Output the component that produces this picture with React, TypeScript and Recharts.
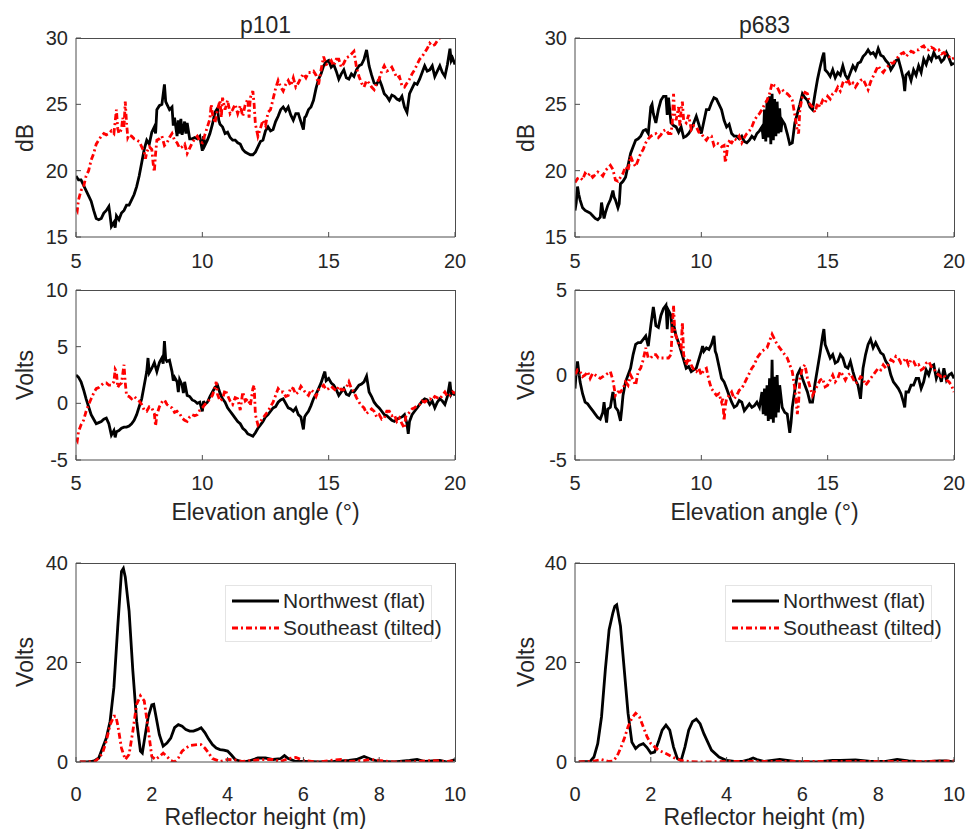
import { LineChart, Line, XAxis, YAxis, Legend } from "recharts";

// MATLAB-ish look: Arial metrics, dark grey ink, thin grey frame.
const FONT = '"Liberation Sans", Arial, Helvetica, sans-serif';
const INK = "#262626";
const FRAME = "#4d4d4d";
const NW_COLOR = "#000000";
const SE_COLOR = "#ff0000";
const DASH_DOT = "6 3 2 3";
const LINE_W = 2.8;
const TICK_LEN = 5;
const Y_AXIS_W = 60;
const X_AXIS_H = 30;

type Pt = [number, number];

const LEGEND_NAMES = ["Northwest (flat)", "Southeast (tilted)"];
const SITES = ["p101", "p683"];

const ANGLE_TICKS = [5, 10, 15, 20];
const HEIGHT_TICKS = [0, 2, 4, 6, 8, 10];
const DB_TICKS = [15, 20, 25, 30];
const VOLT_TICKS_P101 = [-5, 0, 5, 10];
const VOLT_TICKS_P683 = [-5, 0, 5];
const PEAK_TICKS = [0, 20, 40];

// p101 SNR (dB) vs elevation angle
const p101DbNW: Pt[] = [
  [5.0, 19.6], [5.1, 19.3], [5.2, 19.3], [5.3, 18.9], [5.4, 18.5], [5.5, 18.1], [5.6, 17.7], [5.7, 17.0],
  [5.8, 16.4], [5.9, 16.3], [6.0, 16.4], [6.1, 16.8], [6.2, 17.0], [6.3, 17.3], [6.35, 16.6], [6.4, 15.8],
  [6.5, 16.1], [6.55, 15.7], [6.6, 16.6], [6.7, 16.3], [6.8, 16.8], [6.9, 17.0], [7.0, 17.4], [7.1, 17.4],
  [7.2, 17.8], [7.3, 18.2], [7.4, 18.8], [7.5, 19.6], [7.6, 20.6], [7.7, 21.6], [7.8, 22.3], [7.9, 22.0],
  [8.0, 22.9], [8.1, 23.3], [8.15, 22.8], [8.2, 24.6], [8.3, 24.9], [8.4, 25.0], [8.5, 26.5], [8.55, 25.2],
  [8.6, 25.0], [8.7, 24.6], [8.8, 24.8], [8.85, 23.4], [8.9, 24.0], [9.0, 22.6], [9.05, 23.8], [9.1, 22.8],
  [9.15, 23.9], [9.2, 22.7], [9.3, 23.7], [9.35, 22.8], [9.4, 23.6], [9.5, 22.4], [9.6, 22.4], [9.7, 22.5],
  [9.8, 22.4], [9.9, 22.6], [10.0, 21.5], [10.05, 22.6], [10.1, 21.9], [10.2, 22.3], [10.3, 22.8], [10.4, 23.5],
  [10.5, 24.4], [10.6, 24.7], [10.65, 23.8], [10.7, 23.5], [10.8, 23.3], [10.9, 22.8], [11.0, 22.9], [11.1, 22.5],
  [11.2, 22.3], [11.3, 22.3], [11.4, 22.1], [11.5, 22.0], [11.6, 21.6], [11.7, 21.4], [11.8, 21.3], [11.9, 21.2],
  [12.0, 21.2], [12.1, 21.4], [12.2, 21.8], [12.3, 22.2], [12.4, 22.3], [12.5, 23.0], [12.6, 23.3], [12.7, 23.0],
  [12.8, 23.1], [12.9, 23.7], [13.0, 24.1], [13.1, 24.6], [13.2, 24.8], [13.3, 24.5], [13.4, 24.8], [13.5, 24.2],
  [13.6, 23.8], [13.7, 24.3], [13.8, 24.3], [13.9, 23.7], [14.0, 23.1], [14.05, 24.0], [14.1, 24.1], [14.2, 24.6],
  [14.3, 24.8], [14.4, 25.3], [14.5, 26.2], [14.6, 26.9], [14.7, 27.3], [14.8, 27.9], [14.9, 28.2], [15.0, 28.3],
  [15.1, 27.8], [15.2, 28.0], [15.3, 27.5], [15.4, 26.9], [15.5, 27.3], [15.6, 27.6], [15.7, 27.0], [15.8, 26.9],
  [15.9, 27.3], [16.0, 27.1], [16.1, 27.6], [16.2, 27.9], [16.3, 28.0], [16.4, 28.4], [16.5, 29.1], [16.6, 27.9],
  [16.7, 27.2], [16.8, 26.6], [16.9, 26.5], [17.0, 26.9], [17.1, 26.4], [17.2, 25.8], [17.3, 25.6], [17.4, 25.3],
  [17.5, 25.7], [17.6, 25.6], [17.7, 25.4], [17.8, 25.3], [17.9, 25.6], [18.0, 24.8], [18.1, 24.4], [18.2, 25.8],
  [18.3, 26.2], [18.4, 26.6], [18.5, 26.5], [18.6, 26.9], [18.7, 27.4], [18.8, 27.9], [18.9, 27.5], [19.0, 27.6],
  [19.1, 27.9], [19.2, 27.1], [19.3, 27.5], [19.4, 27.9], [19.5, 27.4], [19.6, 27.1], [19.7, 28.0], [19.8, 29.2],
  [19.85, 28.3], [19.9, 28.5], [20.0, 28.0],
];

const p101DbSE: Pt[] = [
  [5.0, 17.2], [5.05, 17.0], [5.1, 17.8], [5.2, 18.5], [5.3, 18.8], [5.4, 19.6], [5.5, 20.0], [5.6, 20.8],
  [5.7, 21.3], [5.8, 22.0], [5.9, 22.3], [6.0, 22.6], [6.1, 22.8], [6.2, 22.7], [6.3, 22.8], [6.4, 23.0],
  [6.5, 22.8], [6.6, 24.6], [6.65, 23.2], [6.7, 22.8], [6.8, 23.1], [6.85, 24.0], [6.9, 23.3], [6.95, 25.2],
  [7.0, 23.6], [7.05, 22.5], [7.1, 22.7], [7.2, 22.6], [7.3, 22.4], [7.4, 22.3], [7.5, 22.2], [7.6, 21.8],
  [7.7, 21.4], [7.75, 20.9], [7.8, 21.4], [7.9, 21.8], [8.0, 21.6], [8.05, 20.6], [8.1, 19.9], [8.15, 21.3],
  [8.2, 22.3], [8.3, 22.4], [8.4, 22.6], [8.5, 21.9], [8.6, 22.1], [8.7, 22.5], [8.8, 22.8], [8.9, 22.3],
  [9.0, 22.1], [9.1, 21.7], [9.2, 21.8], [9.3, 22.0], [9.4, 21.3], [9.5, 21.7], [9.6, 22.1], [9.7, 22.4],
  [9.8, 22.6], [9.9, 22.2], [10.0, 22.1], [10.1, 22.7], [10.2, 23.3], [10.3, 23.9], [10.35, 25.0], [10.4, 24.3],
  [10.5, 23.6], [10.6, 24.6], [10.7, 25.3], [10.75, 24.0], [10.8, 25.5], [10.9, 24.6], [11.0, 25.3], [11.1, 24.3],
  [11.2, 24.6], [11.3, 25.0], [11.4, 24.3], [11.5, 24.9], [11.6, 24.1], [11.7, 25.0], [11.8, 25.4], [11.85, 24.0],
  [11.9, 25.5], [12.0, 26.0], [12.05, 25.0], [12.1, 23.5], [12.2, 22.6], [12.3, 23.2], [12.4, 23.8], [12.5, 23.4],
  [12.6, 24.4], [12.7, 24.6], [12.8, 25.4], [12.9, 26.2], [13.0, 26.8], [13.1, 26.3], [13.2, 26.0], [13.3, 26.5],
  [13.4, 26.8], [13.5, 26.4], [13.6, 27.0], [13.7, 26.3], [13.8, 26.6], [13.9, 27.0], [14.0, 27.3], [14.1, 27.0],
  [14.2, 27.4], [14.3, 27.4], [14.4, 27.5], [14.5, 27.2], [14.6, 26.5], [14.7, 27.6], [14.8, 28.6], [14.9, 28.0],
  [15.0, 28.1], [15.1, 28.3], [15.2, 27.9], [15.3, 28.4], [15.4, 28.4], [15.5, 27.8], [15.6, 28.1], [15.7, 28.5],
  [15.8, 28.6], [15.9, 28.8], [16.0, 29.0], [16.1, 27.8], [16.2, 27.1], [16.3, 26.6], [16.4, 26.3], [16.5, 26.8],
  [16.6, 26.6], [16.7, 26.3], [16.8, 26.1], [16.9, 26.6], [17.0, 26.9], [17.1, 27.5], [17.2, 27.9], [17.3, 27.5],
  [17.4, 27.6], [17.5, 27.8], [17.6, 27.4], [17.7, 27.0], [17.8, 27.1], [17.9, 26.4], [18.0, 26.3], [18.1, 26.6],
  [18.2, 26.9], [18.3, 27.3], [18.4, 27.6], [18.5, 28.0], [18.6, 28.4], [18.7, 28.6], [18.8, 28.9], [18.9, 29.2],
  [19.0, 29.6], [19.1, 29.4], [19.2, 29.5], [19.3, 29.8], [19.4, 30.0], [19.5, 30.4], [19.7, 30.8], [20.0, 31.0],
];

// p683 SNR (dB) vs elevation angle
const p683DbNW: Pt[] = [
  [5.0, 17.0], [5.05, 17.6], [5.1, 18.8], [5.15, 18.2], [5.2, 17.8], [5.3, 17.2], [5.4, 17.0], [5.5, 16.9],
  [5.6, 16.8], [5.7, 16.6], [5.8, 16.4], [5.9, 16.3], [6.0, 16.5], [6.05, 17.6], [6.1, 17.0], [6.15, 16.4],
  [6.2, 16.8], [6.3, 17.4], [6.4, 17.8], [6.5, 18.5], [6.55, 18.0], [6.6, 17.8], [6.7, 17.2], [6.75, 17.5],
  [6.8, 19.0], [6.9, 19.2], [7.0, 19.5], [7.1, 20.4], [7.2, 21.3], [7.3, 21.8], [7.4, 22.3], [7.5, 22.4],
  [7.6, 22.6], [7.7, 23.0], [7.8, 23.1], [7.9, 22.8], [8.0, 24.8], [8.05, 25.0], [8.1, 24.3], [8.2, 23.6],
  [8.3, 24.6], [8.4, 25.3], [8.5, 25.6], [8.6, 25.6], [8.65, 24.2], [8.7, 25.5], [8.8, 23.6], [8.9, 23.4],
  [9.0, 23.3], [9.1, 22.9], [9.2, 23.3], [9.3, 22.5], [9.4, 22.6], [9.5, 22.8], [9.6, 23.1], [9.7, 23.6],
  [9.8, 24.1], [9.9, 23.5], [10.0, 22.8], [10.1, 23.7], [10.2, 24.6], [10.3, 24.6], [10.4, 25.1], [10.5, 25.5],
  [10.6, 25.4], [10.7, 25.0], [10.8, 24.6], [10.9, 23.8], [11.0, 23.3], [11.1, 23.5], [11.2, 22.8], [11.3, 22.6],
  [11.4, 22.6], [11.5, 22.4], [11.6, 22.6], [11.7, 22.2], [11.8, 22.1], [11.9, 22.3], [12.0, 22.6], [12.1, 22.4],
  [12.2, 22.8], [12.3, 23.0], [12.4, 23.3], [12.45, 22.4], [12.5, 24.6], [12.55, 22.2], [12.6, 25.3], [12.65, 22.5],
  [12.7, 25.6], [12.75, 22.0], [12.8, 25.8], [12.85, 22.3], [12.9, 25.4], [12.95, 22.6], [13.0, 25.2], [13.05, 22.8],
  [13.1, 24.7], [13.15, 22.9], [13.2, 23.8], [13.3, 23.5], [13.4, 22.8], [13.5, 22.0], [13.6, 22.1], [13.7, 23.6],
  [13.8, 24.3], [13.9, 25.0], [14.0, 25.8], [14.1, 25.5], [14.2, 25.3], [14.3, 24.8], [14.4, 24.6], [14.5, 25.8],
  [14.6, 26.9], [14.7, 27.8], [14.8, 28.6], [14.85, 28.9], [14.9, 27.6], [15.0, 27.4], [15.1, 27.1], [15.2, 27.6],
  [15.3, 27.0], [15.4, 27.4], [15.5, 27.2], [15.6, 27.9], [15.7, 27.2], [15.8, 26.9], [15.9, 27.4], [16.0, 27.9],
  [16.1, 27.6], [16.2, 28.1], [16.3, 28.2], [16.4, 28.6], [16.5, 28.8], [16.6, 29.1], [16.7, 28.8], [16.8, 28.9],
  [16.9, 28.6], [17.0, 29.2], [17.1, 28.7], [17.2, 28.6], [17.3, 28.3], [17.4, 28.1], [17.5, 27.6], [17.6, 27.9],
  [17.7, 28.3], [17.8, 28.4], [17.9, 27.7], [18.0, 26.9], [18.05, 26.0], [18.1, 27.2], [18.2, 27.4], [18.3, 26.8],
  [18.4, 27.6], [18.5, 27.2], [18.6, 27.9], [18.7, 27.4], [18.8, 28.4], [18.9, 28.0], [19.0, 28.6], [19.1, 28.3],
  [19.2, 28.9], [19.3, 28.5], [19.4, 28.6], [19.5, 28.2], [19.6, 28.4], [19.7, 28.9], [19.8, 28.5], [19.9, 28.0],
  [20.0, 28.1],
];

const p683DbSE: Pt[] = [
  [5.0, 19.1], [5.1, 19.4], [5.2, 19.5], [5.3, 19.3], [5.4, 19.8], [5.5, 19.6], [5.6, 19.8], [5.7, 19.5],
  [5.8, 19.7], [5.9, 19.9], [6.0, 19.8], [6.1, 19.6], [6.2, 20.0], [6.3, 20.2], [6.4, 20.4], [6.5, 20.1],
  [6.6, 19.3], [6.7, 19.2], [6.8, 19.5], [6.9, 19.8], [7.0, 20.3], [7.1, 20.0], [7.2, 21.1], [7.3, 20.6],
  [7.4, 20.3], [7.5, 20.8], [7.6, 21.3], [7.7, 21.6], [7.8, 22.1], [7.9, 22.4], [8.0, 22.6], [8.1, 22.7],
  [8.2, 22.8], [8.3, 22.5], [8.4, 22.7], [8.5, 23.0], [8.6, 23.1], [8.7, 22.8], [8.8, 22.8], [8.85, 23.6],
  [8.9, 25.8], [8.95, 24.2], [9.0, 23.8], [9.1, 24.8], [9.15, 23.4], [9.2, 24.6], [9.25, 25.2], [9.3, 23.8],
  [9.4, 23.6], [9.5, 24.2], [9.6, 23.1], [9.7, 23.4], [9.8, 23.3], [9.9, 22.9], [10.0, 22.8], [10.1, 22.5],
  [10.2, 22.3], [10.3, 22.6], [10.4, 22.6], [10.5, 21.9], [10.6, 22.1], [10.7, 22.0], [10.8, 21.8], [10.9, 21.9],
  [10.95, 20.6], [11.0, 21.2], [11.05, 22.0], [11.1, 22.2], [11.2, 22.1], [11.3, 22.4], [11.4, 22.3], [11.5, 22.6],
  [11.6, 22.1], [11.7, 22.5], [11.8, 22.8], [11.9, 23.0], [12.0, 23.3], [12.1, 23.8], [12.2, 24.1], [12.3, 24.3],
  [12.4, 24.6], [12.5, 25.0], [12.6, 25.3], [12.7, 25.8], [12.8, 26.6], [12.9, 26.4], [13.0, 26.3], [13.1, 25.9],
  [13.2, 26.1], [13.3, 25.9], [13.4, 25.8], [13.5, 25.6], [13.6, 25.3], [13.7, 24.2], [13.8, 23.0], [13.85, 22.8],
  [13.9, 24.6], [14.0, 25.6], [14.1, 25.9], [14.2, 25.8], [14.3, 25.0], [14.4, 24.8], [14.5, 24.4], [14.6, 25.1],
  [14.7, 24.8], [14.8, 25.3], [14.9, 25.1], [15.0, 25.6], [15.1, 25.4], [15.2, 25.8], [15.3, 25.9], [15.4, 26.3],
  [15.5, 26.0], [15.6, 26.6], [15.7, 26.5], [15.8, 26.9], [15.9, 26.4], [16.0, 26.6], [16.1, 26.3], [16.2, 26.6],
  [16.3, 26.8], [16.4, 26.9], [16.5, 26.5], [16.6, 26.1], [16.7, 26.7], [16.8, 27.1], [16.9, 27.5], [17.0, 27.9],
  [17.1, 27.6], [17.2, 27.4], [17.3, 27.7], [17.4, 27.9], [17.5, 28.1], [17.6, 28.1], [17.7, 28.4], [17.8, 28.6],
  [17.9, 28.8], [18.0, 28.9], [18.1, 28.6], [18.2, 28.8], [18.3, 29.0], [18.4, 28.9], [18.5, 29.1], [18.6, 29.1],
  [18.7, 29.3], [18.8, 29.4], [18.9, 29.1], [19.0, 29.1], [19.1, 29.3], [19.2, 29.2], [19.3, 29.0], [19.4, 29.1],
  [19.5, 28.8], [19.6, 28.9], [19.7, 28.7], [19.8, 28.6], [19.9, 28.4], [20.0, 28.5],
];

// p101 detrended SNR (volts) vs elevation angle
const p101VoltNW: Pt[] = [
  [5.0, 2.5], [5.1, 2.3], [5.2, 1.9], [5.3, 1.2], [5.4, 0.4], [5.5, -0.3], [5.6, -1.0], [5.7, -1.4],
  [5.8, -1.8], [5.9, -1.7], [6.0, -1.6], [6.1, -1.4], [6.2, -1.3], [6.3, -1.8], [6.4, -2.8], [6.5, -2.4],
  [6.55, -3.0], [6.6, -2.5], [6.7, -2.4], [6.8, -2.2], [6.9, -2.1], [7.0, -2.1], [7.1, -2.0], [7.2, -1.8],
  [7.3, -1.5], [7.4, -1.0], [7.5, -0.3], [7.6, 0.4], [7.7, 1.6], [7.8, 2.8], [7.85, 4.0], [7.9, 2.7],
  [8.0, 3.1], [8.1, 3.6], [8.2, 2.8], [8.3, 3.6], [8.4, 4.0], [8.45, 3.5], [8.5, 5.5], [8.55, 3.9],
  [8.6, 3.7], [8.7, 3.8], [8.8, 2.8], [8.85, 2.0], [8.9, 2.3], [9.0, 1.9], [9.05, 1.0], [9.1, 2.1],
  [9.2, 1.6], [9.25, 0.9], [9.3, 1.9], [9.4, 0.7], [9.5, 0.6], [9.6, 0.3], [9.7, 0.2], [9.8, 0.0],
  [9.9, 0.1], [10.0, -0.7], [10.05, 0.2], [10.1, -0.1], [10.2, 0.1], [10.3, 0.6], [10.4, 1.0], [10.5, 1.4],
  [10.6, 1.6], [10.7, 0.9], [10.8, 0.4], [10.9, 0.1], [11.0, -0.4], [11.1, -0.7], [11.2, -1.0], [11.3, -1.3],
  [11.4, -1.6], [11.5, -1.8], [11.6, -2.2], [11.7, -2.4], [11.8, -2.7], [11.9, -2.8], [12.0, -2.9], [12.1, -2.6],
  [12.2, -2.2], [12.3, -1.9], [12.4, -1.6], [12.5, -1.2], [12.6, -1.0], [12.7, -0.7], [12.8, -0.4], [12.9, -0.3],
  [13.0, 0.1], [13.1, 0.3], [13.2, 0.4], [13.3, 0.0], [13.4, -0.4], [13.5, -0.5], [13.6, -0.7], [13.7, -0.4],
  [13.8, -1.0], [13.9, -1.2], [14.0, -2.3], [14.05, -1.2], [14.1, -1.0], [14.2, -0.7], [14.3, -0.2], [14.4, 0.4],
  [14.5, 0.8], [14.6, 1.3], [14.7, 1.8], [14.8, 2.5], [14.85, 2.8], [14.9, 2.0], [15.0, 2.2], [15.1, 1.8],
  [15.2, 1.6], [15.3, 1.2], [15.4, 0.7], [15.5, 1.0], [15.6, 1.3], [15.7, 0.8], [15.8, 0.7], [15.9, 1.1],
  [16.0, 1.0], [16.1, 1.3], [16.2, 1.6], [16.3, 1.7], [16.4, 1.9], [16.5, 2.4], [16.6, 1.0], [16.7, 0.6],
  [16.8, 0.1], [16.9, -0.2], [17.0, -0.4], [17.1, -0.7], [17.2, -1.0], [17.3, -1.1], [17.4, -1.3], [17.5, -1.5],
  [17.6, -1.6], [17.7, -1.4], [17.8, -1.3], [17.9, -1.2], [18.0, -1.0], [18.1, -1.8], [18.15, -2.7], [18.2, -1.6],
  [18.3, -1.0], [18.4, -0.7], [18.5, -0.4], [18.6, -0.1], [18.7, 0.2], [18.8, 0.4], [18.9, 0.3], [19.0, -0.1],
  [19.1, 0.2], [19.2, -0.4], [19.3, 0.1], [19.4, 0.4], [19.5, 0.2], [19.6, -0.1], [19.7, 0.6], [19.8, 1.9],
  [19.85, 0.8], [19.9, 1.0], [20.0, 0.7],
];

const p101VoltSE: Pt[] = [
  [5.0, -3.1], [5.05, -3.3], [5.1, -2.5], [5.2, -1.9], [5.3, -1.5], [5.4, -0.7], [5.5, -0.1], [5.6, 0.4],
  [5.7, 0.9], [5.8, 1.3], [5.9, 1.4], [6.0, 1.6], [6.1, 1.8], [6.2, 1.8], [6.3, 1.6], [6.4, 1.6],
  [6.5, 1.9], [6.55, 3.0], [6.6, 2.8], [6.65, 1.4], [6.7, 1.6], [6.8, 1.8], [6.85, 2.6], [6.9, 3.4],
  [6.95, 1.8], [7.0, 0.7], [7.1, 0.6], [7.2, 0.4], [7.3, 0.6], [7.4, 0.4], [7.5, 0.2], [7.6, -0.1],
  [7.7, -0.6], [7.8, -0.7], [7.9, -0.3], [8.0, -0.4], [8.1, -0.9], [8.15, -2.0], [8.2, -1.0], [8.3, -0.3],
  [8.4, 0.1], [8.5, 0.3], [8.6, -0.1], [8.7, -0.3], [8.8, -0.4], [8.9, -0.8], [9.0, -0.7], [9.1, -0.9],
  [9.2, -1.3], [9.3, -1.5], [9.4, -1.6], [9.5, -1.2], [9.6, -1.0], [9.7, -1.1], [9.8, -1.0], [9.9, -0.6],
  [10.0, -0.4], [10.1, -0.1], [10.2, 0.1], [10.3, 0.4], [10.4, 0.7], [10.5, 1.4], [10.55, 1.9], [10.6, 0.8],
  [10.7, 0.2], [10.8, 0.4], [10.9, 1.2], [11.0, 0.7], [11.1, 0.2], [11.2, -0.1], [11.3, 0.5], [11.4, 0.4],
  [11.5, -0.6], [11.6, 1.0], [11.7, 0.2], [11.8, 0.4], [11.9, -0.2], [12.0, 1.3], [12.05, 1.6], [12.1, -1.0],
  [12.2, -1.9], [12.3, -1.6], [12.4, -1.3], [12.5, -1.0], [12.6, -0.7], [12.7, -0.3], [12.8, 0.1], [12.9, 0.7],
  [13.0, 1.3], [13.1, 1.0], [13.2, 1.0], [13.3, 0.6], [13.4, 0.7], [13.5, 1.4], [13.6, 1.3], [13.7, 0.8],
  [13.8, 1.0], [13.9, 1.5], [14.0, 1.2], [14.1, 0.9], [14.2, 0.7], [14.3, 1.2], [14.4, 1.0], [14.5, 0.6],
  [14.6, 1.2], [14.7, 1.4], [14.8, 1.6], [14.9, 1.2], [15.0, 1.3], [15.1, 1.5], [15.2, 1.3], [15.3, 1.1],
  [15.4, 1.5], [15.5, 1.2], [15.6, 1.2], [15.7, 1.4], [15.8, 1.9], [15.9, 1.3], [16.0, 1.0], [16.1, 0.5],
  [16.2, 0.1], [16.3, -0.2], [16.4, -0.4], [16.5, -0.9], [16.6, -0.7], [16.7, -0.5], [16.8, -0.7], [16.9, -1.2],
  [17.0, -1.0], [17.1, -1.4], [17.2, -1.3], [17.3, -0.7], [17.4, -0.7], [17.5, -1.1], [17.6, -1.0], [17.7, -1.6],
  [17.8, -1.3], [17.9, -1.8], [18.0, -2.2], [18.05, -1.2], [18.1, -1.0], [18.2, -0.8], [18.3, -0.5], [18.4, -0.4],
  [18.5, -0.2], [18.6, -0.1], [18.7, 0.2], [18.8, 0.1], [18.9, 0.3], [19.0, 0.4], [19.1, 0.3], [19.2, 0.6],
  [19.3, 0.5], [19.4, 0.4], [19.5, 0.7], [19.6, 1.0], [19.7, 0.6], [19.8, 0.7], [19.9, 1.0], [20.0, 0.9],
];

// p683 detrended SNR (volts) vs elevation angle
const p683VoltNW: Pt[] = [
  [5.0, -0.8], [5.05, 0.2], [5.1, 0.8], [5.15, 0.2], [5.2, -0.4], [5.3, -1.1], [5.4, -1.6], [5.5, -1.7],
  [5.6, -1.9], [5.7, -2.1], [5.8, -2.3], [5.9, -2.5], [6.0, -2.6], [6.1, -2.2], [6.15, -1.6], [6.2, -2.3],
  [6.25, -2.8], [6.3, -2.0], [6.4, -1.9], [6.5, -1.0], [6.55, -1.3], [6.6, -1.9], [6.7, -2.1], [6.8, -2.7],
  [6.85, -2.0], [6.9, -1.2], [7.0, -0.4], [7.1, 0.0], [7.2, 0.4], [7.3, 1.2], [7.4, 1.8], [7.5, 1.9],
  [7.6, 1.9], [7.7, 2.1], [7.8, 2.3], [7.9, 1.7], [8.0, 2.9], [8.1, 4.0], [8.15, 3.5], [8.2, 2.9],
  [8.3, 2.8], [8.4, 3.5], [8.5, 3.9], [8.6, 4.1], [8.65, 2.7], [8.7, 3.8], [8.8, 3.5], [8.85, 2.5],
  [8.9, 3.0], [9.0, 2.3], [9.1, 1.9], [9.2, 1.4], [9.3, 0.9], [9.4, 0.4], [9.5, 0.5], [9.6, 0.2],
  [9.7, 0.3], [9.8, 0.4], [9.9, 0.9], [10.0, 1.4], [10.05, 1.7], [10.1, 1.4], [10.2, 1.6], [10.3, 1.5],
  [10.4, 1.8], [10.5, 2.3], [10.55, 1.4], [10.6, 1.2], [10.7, 0.5], [10.8, -0.2], [10.9, -0.4], [11.0, -0.8],
  [11.1, -1.2], [11.2, -1.6], [11.3, -1.9], [11.4, -1.8], [11.5, -1.5], [11.6, -1.6], [11.7, -2.1], [11.8, -1.9],
  [11.9, -1.7], [12.0, -1.9], [12.1, -1.8], [12.2, -1.6], [12.3, -1.9], [12.4, -1.0], [12.45, -2.3], [12.5, -0.8],
  [12.55, -2.4], [12.6, -0.6], [12.65, -2.7], [12.7, -0.2], [12.75, -2.6], [12.8, 0.9], [12.85, -2.8], [12.9, -0.1],
  [12.95, -2.5], [13.0, 0.0], [13.05, -2.2], [13.1, -0.6], [13.2, -1.9], [13.3, -2.2], [13.4, -2.3], [13.5, -3.4],
  [13.55, -2.8], [13.6, -1.9], [13.7, -0.9], [13.8, 0.0], [13.9, 0.3], [14.0, -0.2], [14.1, -0.6], [14.2, -1.0],
  [14.3, -1.6], [14.4, -1.6], [14.5, -0.5], [14.6, 0.4], [14.7, 1.3], [14.8, 2.3], [14.85, 2.7], [14.9, 1.8],
  [15.0, 1.4], [15.1, 1.0], [15.2, 1.2], [15.3, 0.7], [15.4, 0.8], [15.5, 1.2], [15.6, 1.0], [15.7, 0.5],
  [15.8, 0.4], [15.9, 0.8], [16.0, 0.2], [16.1, -0.3], [16.2, -0.6], [16.3, -1.4], [16.4, 0.4], [16.5, 1.2],
  [16.6, 1.8], [16.7, 2.1], [16.8, 1.6], [16.9, 1.9], [17.0, 1.6], [17.1, 1.3], [17.2, 1.2], [17.3, 0.8],
  [17.4, 0.6], [17.5, 0.0], [17.6, -0.4], [17.7, -0.6], [17.8, -0.8], [17.9, -1.1], [18.0, -1.6], [18.05, -1.9],
  [18.1, -1.0], [18.2, -1.0], [18.3, -0.6], [18.4, -0.6], [18.5, -0.2], [18.6, -0.2], [18.7, -0.8], [18.8, -0.4],
  [18.9, 0.3], [19.0, 0.0], [19.1, 0.5], [19.2, 0.6], [19.3, -0.2], [19.4, 0.2], [19.5, -0.4], [19.6, 0.4],
  [19.7, -0.3], [19.8, 0.0], [19.9, 0.1], [20.0, -0.2],
];

const p683VoltSE: Pt[] = [
  [5.0, 0.0], [5.1, 0.3], [5.2, 0.2], [5.3, -0.1], [5.4, 0.0], [5.5, 0.2], [5.6, -0.2], [5.7, 0.1],
  [5.8, 0.0], [5.9, -0.1], [6.0, -0.2], [6.1, -0.1], [6.2, 0.0], [6.3, 0.1], [6.4, 0.2], [6.5, -0.3],
  [6.6, -1.2], [6.7, -1.0], [6.8, -1.0], [6.9, -0.8], [7.0, -0.4], [7.1, -0.6], [7.2, 0.0], [7.3, -0.3],
  [7.4, -0.6], [7.5, 0.2], [7.6, 0.4], [7.7, 0.9], [7.8, 1.6], [7.9, 1.0], [8.0, 1.0], [8.1, 1.2],
  [8.2, 1.2], [8.3, 1.0], [8.4, 1.0], [8.5, 1.0], [8.6, 1.0], [8.7, 1.0], [8.8, 1.2], [8.85, 2.8],
  [8.9, 4.1], [8.95, 2.5], [9.0, 2.3], [9.1, 1.8], [9.2, 1.6], [9.25, 3.1], [9.3, 1.2], [9.4, 0.6],
  [9.5, 1.0], [9.6, 0.6], [9.7, 0.3], [9.8, 0.2], [9.9, 0.4], [10.0, 0.0], [10.1, 0.3], [10.2, 0.4],
  [10.3, -0.3], [10.4, -0.8], [10.5, -1.0], [10.6, -1.2], [10.7, -1.1], [10.8, -1.6], [10.85, -1.4], [10.9, -2.7],
  [10.95, -1.8], [11.0, -1.4], [11.1, -1.2], [11.2, -1.0], [11.3, -1.4], [11.4, -1.2], [11.5, -0.9], [11.6, -0.8],
  [11.7, -0.5], [11.8, -0.2], [11.9, 0.1], [12.0, 0.4], [12.1, 0.6], [12.2, 1.0], [12.3, 1.2], [12.4, 1.4],
  [12.5, 1.5], [12.6, 1.6], [12.7, 2.0], [12.8, 2.4], [12.9, 2.1], [13.0, 1.8], [13.1, 1.6], [13.2, 1.4],
  [13.3, 1.2], [13.4, 1.0], [13.5, 0.6], [13.6, 0.2], [13.7, -0.8], [13.8, -2.3], [13.85, -1.6], [13.9, -0.2],
  [14.0, 0.4], [14.1, 0.6], [14.2, -0.2], [14.3, -0.7], [14.4, -1.2], [14.5, -0.9], [14.6, -0.6], [14.7, -0.3],
  [14.8, -0.2], [14.9, -0.7], [15.0, -0.6], [15.1, -0.3], [15.2, 0.0], [15.3, -0.4], [15.4, -0.2], [15.5, 0.2],
  [15.6, 0.0], [15.7, -0.3], [15.8, 0.0], [15.9, 0.1], [16.0, -0.2], [16.1, -0.5], [16.2, -0.4], [16.3, -0.1],
  [16.4, -0.2], [16.5, -0.6], [16.6, -0.4], [16.7, -0.2], [16.8, 0.0], [16.9, 0.2], [17.0, 0.4], [17.1, 0.3],
  [17.2, 0.6], [17.3, 0.4], [17.4, 0.6], [17.5, 0.9], [17.6, 0.8], [17.7, 1.1], [17.8, 1.0], [17.9, 0.7],
  [18.0, 0.8], [18.1, 1.0], [18.2, 0.6], [18.3, 0.9], [18.4, 0.8], [18.5, 0.5], [18.6, 0.6], [18.7, 0.3],
  [18.8, 0.4], [18.9, 0.7], [19.0, 0.8], [19.1, 0.5], [19.2, 0.4], [19.3, 0.1], [19.4, 0.0], [19.5, -0.1],
  [19.6, 0.0], [19.7, -0.3], [19.8, -0.4], [19.9, -0.6], [20.0, -1.0],
];

// Lomb-Scargle periodograms: amplitude (volts) vs reflector height (m)
const p101PeakNW: Pt[] = [
  [0.1, 0], [0.3, 0], [0.4, 0.1], [0.5, 0.3], [0.6, 0.8], [0.7, 2.8], [0.8, 4.8], [0.9, 8.2],
  [1.0, 15], [1.1, 27], [1.2, 38.3], [1.25, 38.9], [1.3, 37.2], [1.4, 30.4], [1.5, 18.3], [1.6, 8.2],
  [1.7, 2.2], [1.75, 1.8], [1.8, 4.2], [1.9, 8.9], [2.0, 11.5], [2.05, 11.6], [2.1, 9.6], [2.2, 5.5],
  [2.3, 3.2], [2.4, 3.8], [2.5, 4.8], [2.6, 6.9], [2.7, 7.5], [2.8, 7.2], [2.9, 6.5], [3.0, 6.2],
  [3.1, 6.2], [3.2, 6.5], [3.3, 6.9], [3.4, 5.9], [3.5, 4.6], [3.6, 3.5], [3.7, 2.8], [3.8, 2.5],
  [3.9, 2.4], [4.0, 2.2], [4.1, 1.4], [4.2, 0.5], [4.4, 0], [4.6, 0.3], [4.8, 0.8], [5.0, 0.8],
  [5.2, 0.5], [5.4, 0.7], [5.5, 1.3], [5.6, 0.7], [5.8, 0.1], [6.0, 0.1], [6.4, 0], [6.8, 0.1],
  [7.2, 0.3], [7.4, 0.5], [7.6, 1.1], [7.8, 0.5], [8.0, 0.1], [8.4, 0], [8.8, 0.3], [9.0, 0.5],
  [9.2, 0.1], [9.6, 0.3], [9.8, 0], [10.0, 0.5],
];

const p101PeakSE: Pt[] = [
  [0.1, 0], [0.5, 0.1], [0.6, 0.8], [0.7, 1.8], [0.8, 4.2], [0.9, 7.5], [1.0, 9.2], [1.05, 9.2],
  [1.1, 7.5], [1.2, 2.8], [1.3, 0.5], [1.4, 1.5], [1.5, 6.2], [1.6, 11.6], [1.7, 13.3], [1.8, 12.3],
  [1.9, 6.9], [2.0, 1.1], [2.1, 0.5], [2.2, 1.1], [2.3, 1.8], [2.4, 1.1], [2.5, 0.3], [2.6, 0],
  [2.7, 0.8], [2.8, 2.2], [2.9, 2.8], [3.0, 3.3], [3.2, 3.5], [3.3, 3.5], [3.4, 2.8], [3.5, 1.8],
  [3.6, 0.7], [3.8, 0.1], [4.0, 0.5], [4.2, 0.4], [4.4, 0.1], [4.6, 0.3], [5.0, 0.5], [5.2, 0.5],
  [5.4, 0.1], [5.6, 0.7], [5.8, 0.9], [6.0, 0.3], [6.4, 0], [6.8, 0.4], [7.0, 0.5], [7.2, 0.1],
  [7.6, 0.3], [7.8, 0.5], [8.0, 0.3], [8.4, 0], [9.0, 0.1], [9.4, 0.3], [9.8, 0.1], [10.0, 0.3],
];

const p683PeakNW: Pt[] = [
  [0.1, 0], [0.4, 0.1], [0.5, 1.0], [0.6, 3.7], [0.7, 9.1], [0.8, 18.5], [0.9, 26.6], [1.0, 30.0],
  [1.05, 31.3], [1.1, 31.6], [1.2, 27.3], [1.3, 18.5], [1.4, 9.8], [1.5, 4.0], [1.6, 2.7], [1.7, 3.4],
  [1.8, 3.7], [1.9, 2.9], [2.0, 1.8], [2.1, 2.0], [2.2, 4.0], [2.3, 6.4], [2.4, 7.4], [2.5, 6.4],
  [2.6, 3.0], [2.7, 0.7], [2.8, 0.3], [2.9, 3.0], [3.0, 6.4], [3.1, 8.1], [3.2, 8.6], [3.3, 7.7],
  [3.4, 5.7], [3.6, 2.4], [3.8, 1.0], [4.0, 0.3], [4.2, 0.1], [4.4, 0.1], [4.6, 0.5], [4.7, 0.8],
  [4.8, 0.5], [5.0, 0.1], [5.2, 0.3], [5.4, 0.5], [5.6, 0.3], [5.8, 0.1], [6.0, 0], [6.4, 0],
  [6.8, 0.3], [7.0, 0.3], [7.4, 0.4], [7.8, 0.1], [8.2, 0.1], [8.5, 0.5], [8.8, 0.2], [9.2, 0],
  [9.6, 0.2], [9.8, 0.2], [10.0, 0],
];

const p683PeakSE: Pt[] = [
  [0.1, 0], [0.5, 0.2], [0.7, 0.5], [0.8, 0.3], [0.9, 0.1], [1.0, 0.2], [1.1, 1.0], [1.2, 2.7],
  [1.3, 4.7], [1.4, 7.1], [1.5, 8.8], [1.6, 9.8], [1.7, 9.1], [1.8, 7.1], [1.9, 5.1], [2.0, 3.7],
  [2.2, 2.4], [2.4, 1.7], [2.6, 0.9], [2.8, 0.3], [3.0, 0.1], [3.4, 0], [4.0, 0.1], [5.0, 0.1],
  [6.0, 0.1], [7.0, 0.1], [8.0, 0.1], [9.0, 0.1], [10.0, 0.2],
];

const toRows = (pts: Pt[]) => pts.map(([x, y]) => ({ x, y }));

const tickText = { fill: INK, fontSize: 20, fontFamily: FONT };

function LegendBox() {
  return (
    <div
      style={{
        width: 207,
        height: 57,
        boxSizing: "border-box",
        border: "1px solid #e4e4e4",
        background: "#fff",
        fontFamily: FONT,
        fontSize: 21,
        color: INK,
        paddingTop: 1,
      }}
    >
      {LEGEND_NAMES.map((name, i) => (
        <div key={name} style={{ display: "flex", alignItems: "center", height: 27, whiteSpace: "nowrap" }}>
          <svg width={57} height={10} style={{ flex: "none" }}>
            <line
              x1={6}
              x2={53}
              y1={5}
              y2={5}
              stroke={i ? SE_COLOR : NW_COLOR}
              strokeWidth={LINE_W}
              strokeDasharray={i ? DASH_DOT : undefined}
            />
          </svg>
          <span style={{ lineHeight: 1 }}>{name}</span>
        </div>
      ))}
    </div>
  );
}

type PanelProps = {
  left: number;
  top: number;
  height: number;
  margin: { top: number; right: number; bottom: number; left: number };
  xDomain: [number, number];
  xTicks: number[];
  yDomain: [number, number];
  yTicks: number[];
  nw: Pt[];
  se: Pt[];
  labelGap: number;
  width?: number;
  legendLeft?: number;
};

function Panel({ left, top, height, margin, xDomain, xTicks, yDomain, yTicks, nw, se, labelGap, width = 483, legendLeft }: PanelProps) {
  // upper and right edges of the MATLAB box, laid over the plot area
  const box = {
    left: margin.left + Y_AXIS_W,
    top: margin.top,
    width: width - margin.right - margin.left - Y_AXIS_W + 0.5,
    height: height - margin.top - margin.bottom - X_AXIS_H,
  };
  return (
    <div style={{ position: "absolute", left, top, width, height }}>
      <LineChart width={width} height={height} margin={margin} data={toRows(nw)}>
        <XAxis
          type="number"
          dataKey="x"
          domain={xDomain}
          ticks={xTicks}
          interval={0}
          allowDataOverflow
          height={X_AXIS_H}
          stroke={FRAME}
          tickSize={-TICK_LEN}
          tickMargin={labelGap + TICK_LEN}
          tick={tickText}
        />
        <YAxis
          type="number"
          domain={yDomain}
          ticks={yTicks}
          interval={0}
          allowDataOverflow
          width={Y_AXIS_W}
          stroke={FRAME}
          tickSize={-TICK_LEN}
          tickMargin={8 + TICK_LEN}
          tick={tickText}
        />
        <Line
          dataKey="y"
          name={LEGEND_NAMES[0]}
          type="linear"
          stroke={NW_COLOR}
          strokeWidth={LINE_W}
          dot={false}
          isAnimationActive={false}
        />
        <Line
          data={toRows(se)}
          dataKey="y"
          name={LEGEND_NAMES[1]}
          type="linear"
          stroke={SE_COLOR}
          strokeWidth={LINE_W}
          strokeDasharray={DASH_DOT}
          dot={false}
          isAnimationActive={false}
        />
        {legendLeft !== undefined && (
          <Legend
            layout="vertical"
            align="center"
            verticalAlign="middle"
            content={() => <LegendBox />}
            wrapperStyle={{ left: legendLeft, top: 40, width: 207, height: 57 }}
          />
        )}
      </LineChart>
      <div
        style={{
          position: "absolute",
          ...box,
          boxSizing: "border-box",
          borderTop: `1px solid ${FRAME}`,
          borderRight: `1px solid ${FRAME}`,
          pointerEvents: "none",
        }}
      />
    </div>
  );
}

function TextAt({ x, y, children, size = 23, rotate = false }: { x: number; y: number; children: string; size?: number; rotate?: boolean }) {
  return (
    <div
      style={{
        position: "absolute",
        left: x,
        top: y,
        transform: `translate(-50%, -50%)${rotate ? " rotate(-90deg)" : ""}`,
        fontFamily: FONT,
        fontSize: size,
        color: INK,
        whiteSpace: "nowrap",
        lineHeight: 1,
      }}
    >
      {children}
    </div>
  );
}

const LEFT_COL = { left: 0, ml: 16, mr: 28 };
const RIGHT_COL = { left: 483, ml: 32, mr: 12 };

export default function App() {
  const cols = [LEFT_COL, RIGHT_COL];
  const dbSeries = [
    [p101DbNW, p101DbSE],
    [p683DbNW, p683DbSE],
  ];
  const voltSeries = [
    [p101VoltNW, p101VoltSE],
    [p683VoltNW, p683VoltSE],
  ];
  const peakSeries = [
    [p101PeakNW, p101PeakSE],
    [p683PeakNW, p683PeakSE],
  ];
  const voltTicks = [VOLT_TICKS_P101, VOLT_TICKS_P683];
  const voltDomains: [number, number][] = [
    [-5, 10],
    [-5, 5],
  ];
  const centers = [265.5, 764.5];
  const yLabelX = [25, 526];
  const legendLefts = [225, 242];

  return (
    <div style={{ position: "absolute", left: 0, top: 0, width: 966, height: 829, background: "#fff", overflow: "hidden" }}>
      {cols.map((c, i) => (
        <div key={SITES[i]}>
          <Panel
            left={c.left}
            top={0}
            height={280}
            margin={{ top: 38, right: c.mr, bottom: 13, left: c.ml }}
            xDomain={[5, 20]}
            xTicks={ANGLE_TICKS}
            yDomain={[15, 30]}
            yTicks={DB_TICKS}
            nw={dbSeries[i][0]}
            se={dbSeries[i][1]}
            labelGap={17}
          />
          <Panel
            left={c.left}
            top={270}
            height={260}
            margin={{ top: 20, right: c.mr, bottom: 40, left: c.ml }}
            xDomain={[5, 20]}
            xTicks={ANGLE_TICKS}
            yDomain={voltDomains[i]}
            yTicks={voltTicks[i]}
            nw={voltSeries[i][0]}
            se={voltSeries[i][1]}
            labelGap={16}
          />
          <Panel
            left={c.left}
            top={545}
            height={284}
            margin={{ top: 18, right: c.mr, bottom: 37, left: c.ml }}
            xDomain={[0, 10]}
            xTicks={HEIGHT_TICKS}
            yDomain={[0, 40]}
            yTicks={PEAK_TICKS}
            nw={peakSeries[i][0]}
            se={peakSeries[i][1]}
            labelGap={25}
            legendLeft={legendLefts[i]}
          />
          <TextAt x={centers[i]} y={25}>{SITES[i]}</TextAt>
          <TextAt x={yLabelX[i]} y={137.5} rotate>dB</TextAt>
          <TextAt x={yLabelX[i]} y={375} rotate>Volts</TextAt>
          <TextAt x={yLabelX[i]} y={662} rotate>Volts</TextAt>
          <TextAt x={centers[i]} y={512}>Elevation angle (°)</TextAt>
          <TextAt x={centers[i]} y={817}>Reflector height (m)</TextAt>
        </div>
      ))}
    </div>
  );
}
